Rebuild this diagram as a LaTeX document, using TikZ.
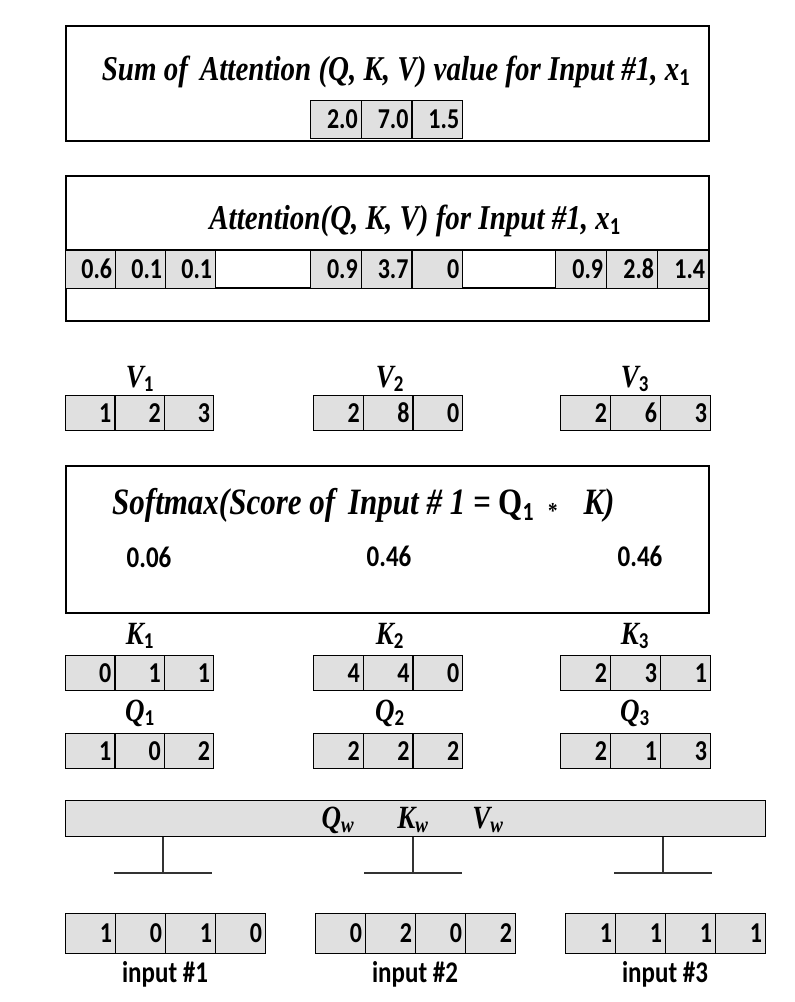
\documentclass[tikz,border=0pt]{standalone}
\usepackage{graphicx}
\usepackage{fontspec}
\setmainfont{Liberation Serif}
\newfontfamily\numf{Carlito}
\newcommand\vs[1]{\scalebox{1}[1.2]{#1}}
\begin{document}
\begin{tikzpicture}[x=1pt,y=-1pt,
  frame/.style={draw=black, line width=1.6pt},
  cell/.style={draw=black, line width=1.3pt, fill=black!12, minimum height=#1, inner sep=0pt},
  celltext/.style={font=\numf\bfseries\fontsize{24}{24}\selectfont, inner sep=0pt, anchor=base east},
  ttl/.style={font=\bfseries\itshape\fontsize{29}{29}\selectfont, inner sep=0pt},
  lbl/.style={font=\bfseries\itshape\fontsize{27}{27}\selectfont, inner sep=0pt},
  val/.style={font=\numf\bfseries\fontsize{25}{25}\selectfont, inner sep=0pt},
  stem/.style={line width=1.5pt, draw=black!80}
]
\useasboundingbox (0,0) rectangle (795,1002);
\newcommand\sub[1]{\textsubscript{\numf\upshape #1}}
% vecrow{name}{x}{ytop}{cellw}{cellh}{values}
\newcommand\vecrow[6]{%
  \foreach \v [count=\i] in {#6} {%
    \node[cell=#5, minimum width=#4, anchor=north west]
      (#1-\i) at ({#2+(\i-1)*#4},#3) {};
    \node[celltext] (#1-\i-t) at ([xshift=-4pt, yshift=-9pt]#1-\i.east) {\vs{\v}};
  }%
}

% ---- Box 1: sum
\node[frame, minimum width=643, minimum height=115, anchor=north west, inner sep=0pt] (sumbox) at (65,25) {};
\node[ttl, anchor=base] (sumttl) at (396,80) {\vs{Sum of\, Attention (Q, K, V) value for Input \#1, \textit{x}\sub{1}}};
\vecrow{s}{310}{100}{50.7}{38}{2.0,7.0,1.5}

% ---- Box 2: attention
\node[frame, minimum width=643, minimum height=145, anchor=north west, inner sep=0pt] (attbox) at (65,175) {};
\node[ttl, anchor=base] (attttl) at (415,229) {\vs{Attention(Q, K, V) for Input \#1, \textit{x}\sub{1}}};
\draw[line width=1.3pt] (attbox.west |- 0,250) -- (attbox.east |- 0,250);
\draw[line width=1.3pt] (attbox.west |- 0,288) -- (attbox.east |- 0,288);
\vecrow{a}{65}{250}{50}{38}{0.6,0.1,0.1}
\vecrow{b}{310}{250}{50.7}{38}{0.9,3.7,0}
\vecrow{c}{555}{250}{51}{38}{0.9,2.8,1.4}

% ---- V vectors
\node[lbl, anchor=base] (v1l) at (140,387) {\vs{V\sub{1}}};
\node[lbl, anchor=base] (v2l) at (390,387) {\vs{V\sub{2}}};
\node[lbl, anchor=base] (v3l) at (635,387) {\vs{V\sub{3}}};
\vecrow{v1}{65}{395}{49.3}{35}{1,2,3}
\vecrow{v2}{313}{395}{49.7}{35}{2,8,0}
\vecrow{v3}{560}{395}{50}{35}{2,6,3}

% ---- Softmax box
\node[frame, minimum width=643, minimum height=147, anchor=north west, inner sep=0pt] (smbox) at (65,465) {};
\node[ttl, anchor=base west, font=\bfseries\itshape\fontsize{31}{31}\selectfont] (smttl) at (112,514) {\vs{Softmax(Score of\, Input \# 1 = \upshape Q\sub{1}\hspace{14pt}\raisebox{-4pt}{\normalfont\bfseries\fontsize{19}{19}\selectfont *}\hspace{26pt}\itshape K)}};
\node[val, anchor=base] (sm1) at (149,567) {\vs{0.06}};
\node[val, anchor=base] (sm2) at (389,566) {\vs{0.46}};
\node[val, anchor=base] (sm3) at (640,566) {\vs{0.46}};

% ---- K vectors
\node[lbl, anchor=base] (k1l) at (140,644) {\vs{K\sub{1}}};
\node[lbl, anchor=base] (k2l) at (390,644) {\vs{K\sub{2}}};
\node[lbl, anchor=base] (k3l) at (635,644) {\vs{K\sub{3}}};
\vecrow{k1}{65}{655}{49.3}{35}{0,1,1}
\vecrow{k2}{313}{655}{49.7}{35}{4,4,0}
\vecrow{k3}{560}{655}{50}{35}{2,3,1}

% ---- Q vectors
\node[lbl, anchor=base] (q1l) at (140,721) {\vs{Q\sub{1}}};
\node[lbl, anchor=base] (q2l) at (390,721) {\vs{Q\sub{2}}};
\node[lbl, anchor=base] (q3l) at (635,721) {\vs{Q\sub{3}}};
\vecrow{q1}{65}{733}{49.3}{35}{1,0,2}
\vecrow{q2}{313}{733}{49.7}{35}{2,2,2}
\vecrow{q3}{560}{733}{50}{35}{2,1,3}

% ---- weight bar
\node[cell=36, minimum width=700, anchor=north west] (wbar) at (65,800) {};
\node[lbl, anchor=base] (qw) at (338,828) {\vs{Q\textsubscript{\itshape w}}};
\node[lbl, anchor=base] (kw) at (413,828) {\vs{K\textsubscript{\itshape w}}};
\node[lbl, anchor=base] (vw) at (488,828) {\vs{V\textsubscript{\itshape w}}};
\coordinate (t1) at (163,873);
\coordinate (t2) at (413,873);
\coordinate (t3) at (663,873);
\foreach \t in {t1,t2,t3} {
  \draw[stem] (wbar.south -| \t) -- (\t);
  \draw[stem] ([xshift=-49pt]\t) -- ([xshift=49pt]\t);
}

% ---- inputs
\vecrow{i1}{65}{913}{50}{40}{1,0,1,0}
\vecrow{i2}{315}{913}{50}{40}{0,2,0,2}
\vecrow{i3}{565}{913}{50}{40}{1,1,1,1}
\node[val, anchor=base] (in1) at (165,982) {\vs{input \#1}};
\node[val, anchor=base] (in2) at (415,982) {\vs{input \#2}};
\node[val, anchor=base] (in3) at (665,982) {\vs{input \#3}};
\end{tikzpicture}
\end{document}
